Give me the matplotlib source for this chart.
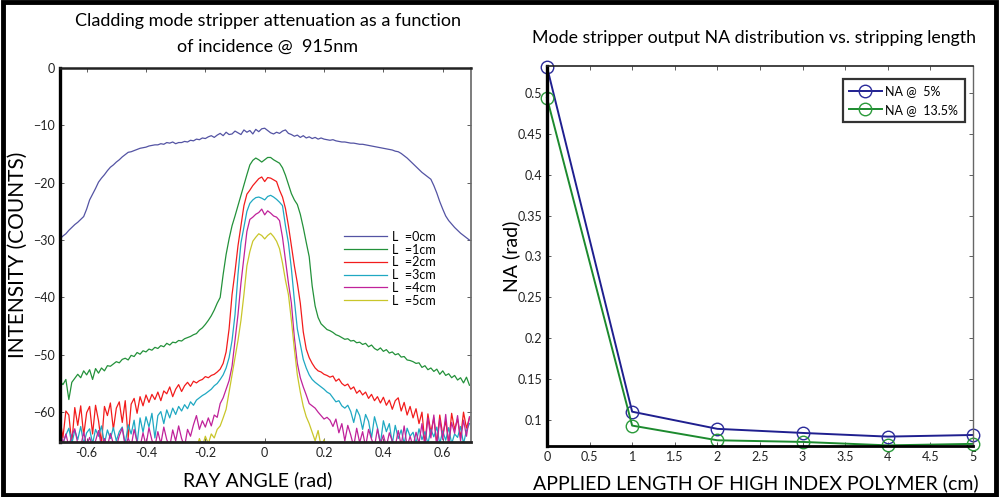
import numpy as np
import matplotlib
matplotlib.use('Agg')
import matplotlib.pyplot as plt
from matplotlib.patches import Rectangle

plt.rcParams['font.family'] = ['Lato', 'DejaVu Sans']

# === DADOS: ESPECTRO ANGULAR (painel esquerdo) ===
angle = np.linspace(-0.69, 0.69, 139)

l0 = [-29.8, -29.3, -28.9, -28.3, -27.8, -27.3, -26.9, -26.4, -25.9, -24.6,
      -23.0, -22.0, -21.0, -19.9, -19.2, -18.6, -17.9, -17.3, -16.9, -16.4,
      -16.0, -15.5, -15.1, -14.7, -14.6, -14.4, -14.2, -14.0, -13.9, -13.8,
      -13.6, -13.5, -13.4, -13.4, -13.2, -13.3, -13.0, -13.1, -12.9, -13.2,
      -13.0, -13.0, -12.8, -12.9, -12.6, -12.7, -12.4, -12.5, -12.2, -12.3,
      -12.0, -11.8, -12.1, -11.7, -11.4, -11.8, -11.2, -11.6, -11.5, -11.0,
      -11.3, -11.6, -10.8, -11.2, -10.9, -11.5, -10.7, -11.1, -10.6, -10.5,
      -10.9, -11.3, -11.5, -11.2, -11.4, -11.0, -10.8, -11.4, -11.6, -11.9,
      -11.7, -12.1, -11.8, -12.2, -12.0, -12.3, -12.1, -12.4, -12.2, -12.4,
      -12.5, -12.6, -12.5, -12.7, -12.8, -12.9, -12.9, -13.0, -13.1, -13.1,
      -13.2, -13.3, -13.3, -13.4, -13.5, -13.6, -13.7, -13.8, -13.9, -14.0,
      -14.1, -14.2, -14.3, -14.5, -14.6, -14.9, -15.3, -15.7, -16.2, -16.7,
      -17.2, -17.7, -18.2, -18.6, -19.0, -19.4, -20.5, -21.8, -23.3, -24.6,
      -25.8, -26.6, -27.2, -27.8, -28.3, -28.8, -29.2, -29.6, -30.0]

l1 = [-54.6, -55.2, -54.3, -57.8, -54.8, -54.1, -53.4, -54.0, -52.8, -53.5,
      -52.6, -54.3, -52.4, -53.2, -52.3, -52.8, -51.9, -52.0, -51.6, -51.2,
      -51.4, -50.8, -50.6, -50.9, -50.1, -50.3, -49.6, -49.9, -49.3, -49.5,
      -49.0, -49.2, -48.7, -48.9, -48.4, -48.6, -48.0, -48.3, -47.8, -47.9,
      -47.5, -47.6, -47.2, -47.0, -46.8, -46.5, -46.3, -45.7, -45.3, -44.7,
      -44.0, -43.2, -42.2, -41.0, -40.0, -36.0, -32.5, -29.8, -27.5, -25.8,
      -24.0, -22.2, -20.4, -18.6, -16.9, -16.1, -15.7, -16.0, -16.4, -16.0,
      -15.6, -15.6, -16.0, -16.3, -16.6, -17.4, -18.7, -20.3, -21.9, -23.0,
      -23.8, -25.5, -27.8, -30.4, -32.9, -38.0, -41.5, -43.5, -44.6, -45.1,
      -45.6, -45.8, -46.1, -46.5, -46.7, -47.0, -47.3, -47.2, -47.6, -47.5,
      -47.9, -47.8, -48.2, -48.0, -48.6, -48.3, -48.9, -49.2, -48.8, -49.4,
      -49.1, -49.7, -49.5, -50.0, -49.8, -50.4, -50.3, -50.9, -51.0, -51.2,
      -51.5, -51.4, -52.2, -51.9, -52.6, -52.3, -52.9, -52.5, -53.4, -52.8,
      -53.6, -53.3, -54.0, -53.6, -54.4, -54.0, -54.9, -53.9, -55.3]

l2 = [-61.0, -64.5, -59.8, -60.5, -65.5, -59.2, -62.3, -58.9, -64.0, -60.1,
      -59.0, -63.8, -58.8, -61.5, -65.5, -59.0, -60.6, -58.4, -63.0, -59.3,
      -58.2, -61.8, -58.0, -64.5, -58.6, -57.6, -60.2, -57.3, -58.9, -57.0,
      -58.3, -56.9, -57.8, -56.5, -58.0, -56.3, -56.8, -55.6, -57.3, -56.0,
      -55.2, -56.4, -55.4, -54.8, -55.5, -54.6, -54.9, -54.5, -54.3, -53.8,
      -54.0, -53.6, -53.4, -53.0, -52.5, -51.5, -49.5, -45.5, -39.5, -35.5,
      -31.0, -27.5, -24.0, -22.0, -21.3, -20.5, -19.9, -19.3, -19.0, -19.8,
      -19.1, -19.2, -19.5, -19.8, -21.3, -22.5, -24.5, -27.5, -31.0, -34.5,
      -37.5, -41.0, -46.0, -49.0, -50.5, -51.5, -52.3, -52.8, -53.0, -53.4,
      -53.6, -53.9, -53.7, -54.6, -54.2, -55.0, -55.4, -55.1, -56.0, -55.6,
      -56.7, -56.2, -57.0, -56.5, -57.6, -56.9, -58.0, -57.3, -58.4, -57.4,
      -58.8, -57.9, -59.5, -58.0, -57.5, -59.8, -58.3, -60.5, -59.0, -61.0,
      -59.4, -62.0, -60.0, -65.5, -60.3, -63.5, -61.0, -65.5, -60.5, -64.0,
      -61.5, -65.5, -60.2, -63.0, -61.2, -64.5, -60.0, -62.8, -61.0]

l3 = [-63.5, -65.5, -64.0, -62.8, -65.5, -63.2, -64.8, -62.5, -65.5, -63.6,
      -62.9, -65.5, -63.0, -64.2, -62.4, -65.5, -63.1, -64.6, -62.7, -65.0,
      -63.4, -62.6, -65.5, -62.2, -63.8, -61.4, -65.5, -61.0, -63.5, -60.8,
      -62.6, -60.2, -64.5, -60.6, -59.9, -62.0, -59.6, -61.0, -59.3, -60.4,
      -59.0, -59.8, -58.7, -59.4, -58.2, -58.8, -57.9, -57.5, -57.1, -56.8,
      -56.4, -56.0, -55.4, -55.0, -54.3, -53.5, -52.3, -50.5, -47.5, -43.0,
      -36.0, -30.5, -27.8, -25.0, -23.6, -23.0, -22.6, -22.5, -22.7, -23.0,
      -22.4, -22.2, -22.5, -22.9, -23.4, -24.0, -27.5, -30.5, -35.0, -40.5,
      -45.5, -48.2, -50.8, -52.3, -53.5, -54.3, -54.8, -55.2, -55.6, -56.0,
      -56.5, -56.8, -57.5, -58.2, -58.0, -58.9, -59.3, -58.8, -59.9, -61.8,
      -59.5, -60.6, -63.0, -60.4, -61.6, -64.5, -60.8, -62.7, -65.5, -61.5,
      -63.4, -62.0, -65.5, -62.3, -64.6, -63.1, -65.5, -62.8, -64.2, -63.5,
      -65.5, -62.9, -64.8, -63.4, -65.5, -63.0, -64.3, -62.6, -65.5, -63.3,
      -64.9, -62.7, -65.5, -63.8, -64.4, -62.5, -65.5, -63.2, -62.0]

l4 = [-62.5, -65.5, -63.8, -66.0, -64.0, -62.9, -65.5, -66.0, -63.5, -65.8,
      -64.4, -66.0, -65.0, -63.2, -66.0, -64.6, -66.0, -63.7, -65.5, -66.0,
      -64.1, -62.8, -66.0, -64.5, -66.0, -63.0, -65.2, -66.0, -63.6, -65.8,
      -62.7, -64.9, -66.0, -63.4, -65.5, -62.6, -64.8, -66.0, -63.1, -65.0,
      -62.4, -64.6, -66.0, -63.0, -64.2, -62.2, -60.6, -63.0, -61.5, -62.6,
      -61.0, -62.4, -60.5, -60.9, -58.5, -57.5, -56.0, -54.5, -52.0, -47.5,
      -43.0, -37.5, -33.0, -28.5, -26.4, -26.0, -25.5, -25.2, -24.6, -25.6,
      -24.9, -25.3, -25.8, -26.0, -26.6, -29.5, -33.5, -37.5, -41.0, -47.0,
      -51.5, -54.0, -55.6, -57.0, -58.5, -58.9, -59.3, -60.0, -60.6, -61.2,
      -60.9, -61.4, -62.5, -61.2, -63.6, -62.0, -65.0, -62.3, -64.0, -66.0,
      -62.8, -65.3, -63.4, -66.0, -63.0, -64.7, -66.0, -62.9, -65.5, -64.0,
      -66.0, -63.6, -65.0, -66.0, -63.2, -65.8, -62.4, -66.0, -64.2, -66.0,
      -63.5, -65.4, -62.0, -66.0, -61.0, -64.5, -60.5, -66.0, -61.2, -64.8,
      -60.4, -65.5, -61.8, -63.7, -60.6, -65.0, -61.4, -64.2, -60.8]

l5 = [-66.5, -67.0, -66.2, -67.0, -66.4, -67.0, -66.0, -67.0, -66.6, -67.0,
      -66.3, -67.0, -66.8, -66.1, -67.0, -66.5, -67.0, -66.2, -67.0, -66.7,
      -67.0, -66.3, -67.0, -66.0, -67.0, -66.6, -67.0, -66.2, -67.0, -66.4,
      -67.0, -66.1, -67.0, -66.5, -67.0, -66.0, -67.0, -66.3, -67.0, -66.6,
      -67.0, -66.2, -67.0, -65.8, -66.6, -65.3, -66.4, -64.6, -66.0, -64.2,
      -65.5, -63.8, -64.5, -63.0, -62.4, -61.0, -59.5, -56.5, -53.5, -50.5,
      -47.5, -44.0, -39.5, -34.5, -32.0, -30.2, -29.5, -28.9, -29.2, -29.8,
      -29.2, -28.8, -29.4, -30.2, -31.5, -34.0, -37.0, -39.5, -44.0, -49.0,
      -53.5, -56.5, -59.0, -60.8, -62.0, -63.5, -65.0, -63.2, -66.0, -64.8,
      -66.5, -67.0, -65.6, -67.0, -66.3, -67.0, -66.0, -67.0, -66.4, -67.0,
      -66.2, -67.0, -66.7, -67.0, -66.1, -67.0, -66.5, -67.0, -66.2, -67.0,
      -66.6, -67.0, -66.0, -67.0, -66.4, -67.0, -66.8, -67.0, -66.3, -67.0,
      -66.5, -67.0, -66.1, -67.0, -66.6, -67.0, -66.2, -67.0, -66.7, -67.0,
      -66.3, -67.0, -66.5, -67.0, -66.0, -67.0, -66.6, -67.0, -66.4]

series_left = [l0, l1, l2, l3, l4, l5]
labels_left = ['L  =0cm', 'L  =1cm', 'L  =2cm', 'L  =3cm', 'L  =4cm', 'L  =5cm']
colors_left = ['#5353a3', '#23913a', '#f21c1c', '#1fa8c2', '#c0229a', '#c9c62a']

# === DADOS: NA vs COMPRIMENTO (painel direito) ===
length_cm = [0, 1, 2, 3, 4, 5]
na_5 = [0.532, 0.110, 0.089, 0.084, 0.0795, 0.0815]
na_135 = [0.494, 0.093, 0.075, 0.073, 0.0688, 0.0706]

fig = plt.figure(figsize=(9.99, 4.97), dpi=100)

# === PAINEL ESQUERDO ===
ax1 = fig.add_axes([0.060, 0.1107, 0.4114, 0.7525])
for y, lab, col in zip(series_left, labels_left, colors_left):
    ax1.plot(angle, y, color=col, lw=0.9, label=lab)
ax1.set_xlim(-0.69, 0.695)
ax1.set_ylim(-65.2, 0)
ax1.set_xticks([-0.6, -0.4, -0.2, 0, 0.2, 0.4, 0.6])
ax1.set_xticklabels(['-0.6', '-0.4', '-0.2', '0', '0.2', '0.4', '0.6'])
ax1.set_yticks([0, -10, -20, -30, -40, -50, -60])
ax1.tick_params(direction='in', length=3, width=0.6, labelsize=9,
                top=True, right=True, colors='#444', labelcolor='#222')
leg1 = ax1.legend(loc='upper left', bbox_to_anchor=(0.67, 0.588), frameon=False,
                  fontsize=9, handlelength=3.4, labelspacing=0.06,
                  handletextpad=0.4, borderpad=0.2)
for sp, w, c in [('left', 2.4, 'black'), ('bottom', 2.0, '#222'),
                 ('top', 1.8, '#222'), ('right', 1.2, '#666')]:
    ax1.spines[sp].set_linewidth(w)
    ax1.spines[sp].set_color(c)

fig.text(0.268, 0.958, 'Cladding mode stripper attenuation as a function',
         ha='center', va='center', fontsize=13)
fig.text(0.268, 0.906, 'of incidence @  915nm', ha='center', va='center', fontsize=13)
fig.text(0.018, 0.487, 'INTENSITY (COUNTS)', rotation=90, ha='center', va='center',
         fontsize=15)
fig.text(0.258, 0.034, 'RAY ANGLE (rad)', ha='center', va='center', fontsize=14)

# === PAINEL DIREITO ===
ax2 = fig.add_axes([0.5475, 0.1026, 0.4264, 0.7646])
ax2.plot(length_cm, na_5, color='#1f1f8f', lw=1.4, marker='o', ms=9,
         mfc='none', mec='#2b2b9a', mew=1.0, label='NA @  5%', clip_on=False)
ax2.plot(length_cm, na_135, color='#1c8a2e', lw=1.4, marker='o', ms=9,
         mfc='none', mec='#2a9a3a', mew=1.0, label='NA @  13.5%', clip_on=False)
ax2.set_xlim(0, 5)
ax2.set_ylim(0.068, 0.533)
ax2.set_xticks([0, 0.5, 1, 1.5, 2, 2.5, 3, 3.5, 4, 4.5, 5])
ax2.set_xticklabels(['0', '0.5', '1', '1.5', '2', '2.5', '3', '3.5', '4', '4.5', '5'])
ax2.set_yticks([0.1, 0.15, 0.2, 0.25, 0.3, 0.35, 0.4, 0.45, 0.5])
ax2.set_yticklabels(['0.1', '0.15', '0.2', '0.25', '0.3', '0.35', '0.4', '0.45', '0.5'])
ax2.tick_params(direction='in', length=3, width=0.6, labelsize=9,
                top=True, right=True, colors='#444', labelcolor='#222')
leg2 = ax2.legend(loc='upper right', bbox_to_anchor=(0.995, 0.982), fontsize=9,
                  fancybox=False, handlelength=2.6, borderpad=0.5,
                  labelspacing=0.5, handletextpad=0.3)
leg2.get_frame().set_edgecolor('black')
leg2.get_frame().set_linewidth(1.6)
for sp, w, c in [('left', 2.4, 'black'), ('bottom', 2.0, 'black'),
                 ('top', 1.2, '#222'), ('right', 1.0, '#666')]:
    ax2.spines[sp].set_linewidth(w)
    ax2.spines[sp].set_color(c)

fig.text(0.5325, 0.923, 'Mode stripper output NA distribution vs. stripping length',
         ha='left', va='center', fontsize=12.8)
fig.text(0.512, 0.485, 'NA (rad)', rotation=90, ha='center', va='center', fontsize=14)
fig.text(0.757, 0.028, 'APPLIED LENGTH OF HIGH INDEX POLYMER (cm)',
         ha='center', va='center', fontsize=14)

# === MOLDURA ===
fig.patches.append(Rectangle((0.003, 0.005), 0.994, 0.99, transform=fig.transFigure,
                             fill=False, lw=3.5, ec='black', zorder=10))

fig.savefig('out.png', dpi=100)
